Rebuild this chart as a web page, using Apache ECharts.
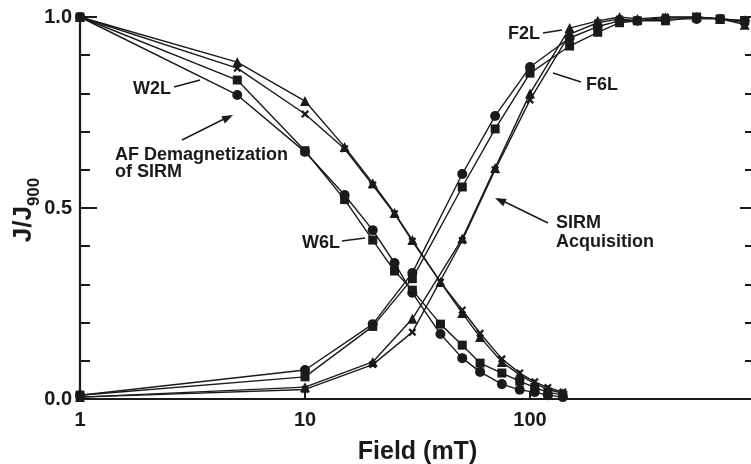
<!DOCTYPE html>
<html>
<head>
<meta charset="utf-8">
<script src="https://cdn.jsdelivr.net/npm/echarts@6/dist/echarts.min.js"></script>
<style>
  html, body { margin: 0; padding: 0; background: #fff; }
  #chart { width: 751px; height: 464px; }
</style>
</head>
<body>
<div id="chart"></div>
<script>
// field steps (mT)
var demagField = [1, 5, 10, 15, 20, 25, 30, 40, 50, 60, 75, 90, 105, 120, 140];
var acqField = [1, 10, 20, 30, 50, 70, 100, 150, 200, 250, 300, 400, 550, 700, 900];

// AF demagnetization of SIRM, J/J900
var demagCircle = [1.0, 0.796, 0.647, 0.534, 0.442, 0.356, 0.278, 0.170, 0.107, 0.071, 0.039, 0.024, 0.018, 0.010, 0.005];
var demagSquare = [1.0, 0.835, 0.650, 0.522, 0.416, 0.335, 0.285, 0.196, 0.141, 0.094, 0.068, 0.047, 0.030, 0.018, 0.010];
var demagTriangle = [1.0, 0.882, 0.780, 0.660, 0.565, 0.487, 0.416, 0.306, 0.225, 0.162, 0.097, 0.063, 0.040, 0.025, 0.015];
var demagCross = [1.0, 0.866, 0.746, 0.655, 0.560, 0.485, 0.413, 0.306, 0.233, 0.172, 0.105, 0.068, 0.045, 0.030, 0.018];

// SIRM acquisition, J/J900
var acqCircle = [0.010, 0.076, 0.196, 0.330, 0.589, 0.741, 0.869, 0.945, 0.975, 0.990, 0.990, 0.995, 0.995, 0.995, 0.990];
var acqSquare = [0.010, 0.058, 0.190, 0.315, 0.555, 0.707, 0.853, 0.924, 0.960, 0.985, 0.990, 0.990, 1.000, 0.995, 0.990];
var acqTriangle = [0.005, 0.031, 0.097, 0.210, 0.420, 0.605, 0.800, 0.971, 0.990, 1.000, 0.995, 1.000, 1.000, 0.995, 0.980];
var acqCross = [0.005, 0.025, 0.090, 0.175, 0.415, 0.600, 0.783, 0.955, 0.985, 0.995, 0.990, 1.000, 1.000, 0.995, 0.985];

var xTicks = [1, 10, 100];
var yTickLabels = ['0.0', '0.5', '1.0'];

var ink = '#1a1a1a';
var font = 'Liberation Sans';
var crossPath = 'path://M0,2 L2,0 L5,3 L8,0 L10,2 L7,5 L10,8 L8,10 L5,7 L2,10 L0,8 L3,5 Z';

function zip(xs, ys) {
  return xs.map(function (x, i) { return [x, ys[i]]; });
}

function makeSeries(name, xs, ys, symbol, size) {
  return {
    name: name,
    type: 'line',
    data: zip(xs, ys),
    symbol: symbol,
    symbolSize: size,
    showAllSymbol: true,
    lineStyle: { color: ink, width: 1.4 },
    itemStyle: { color: ink },
    emphasis: { disabled: true },
    animation: false,
    z: 3
  };
}

var chart = echarts.init(document.getElementById('chart'));

function label(x, y, text) {
  return {
    type: 'text',
    x: x, y: y,
    style: { text: text, fill: ink, font: 'bold 18px "' + font + '"', verticalAlign: 'middle' },
    z: 10
  };
}
function seg(x1, y1, x2, y2) {
  return {
    type: 'line',
    shape: { x1: x1, y1: y1, x2: x2, y2: y2 },
    style: { stroke: ink, lineWidth: 1.4 },
    z: 10
  };
}
function head(tipX, tipY, fromX, fromY) {
  var a = Math.atan2(tipY - fromY, tipX - fromX);
  var l = 11, w = 4;
  var bx = tipX - l * Math.cos(a), by = tipY - l * Math.sin(a);
  return {
    type: 'polygon',
    shape: { points: [[tipX, tipY],
      [bx + w * Math.sin(a), by - w * Math.cos(a)],
      [bx - w * Math.sin(a), by + w * Math.cos(a)]] },
    style: { fill: ink },
    z: 10
  };
}

chart.setOption({
  backgroundColor: '#fff',
  animation: false,
  grid: { left: 80, right: -4, top: 17, bottom: 65, outerBoundsMode: 'none', containLabel: false },
  xAxis: [{
    type: 'log',
    logBase: 10,
    min: 1,
    max: 1000,
    name: 'Field (mT)',
    nameLocation: 'middle',
    nameGap: 41,
    nameTextStyle: { fontFamily: font, fontWeight: 'bold', fontSize: 25, color: ink },
    axisLine: { lineStyle: { color: ink, width: 2.2 } },
    axisTick: { inside: true, length: 8, lineStyle: { color: ink, width: 2 } },
    minorTick: { show: false },
    splitLine: { show: false },
    axisLabel: {
      margin: 11,
      fontFamily: font, fontWeight: 'bold', fontSize: 20, color: ink,
      formatter: function (v) { return xTicks.indexOf(v) >= 0 ? String(v) : ''; }
    }
  }, {
    type: 'log',
    logBase: 10,
    min: 1,
    max: 1000,
    position: 'top',
    axisLine: { lineStyle: { color: ink, width: 2.2 } },
    axisTick: { show: false },
    axisLabel: { show: false },
    splitLine: { show: false }
  }],
  yAxis: [{
    type: 'value',
    min: 0,
    max: 1,
    interval: 0.5,
    axisLine: { lineStyle: { color: ink, width: 2.2 } },
    axisTick: { inside: true, length: 17, lineStyle: { color: ink, width: 2 } },
    minorTick: { show: true, splitNumber: 5, length: 10, lineStyle: { color: ink, width: 2 } },
    splitLine: { show: false },
    axisLabel: {
      margin: 8,
      fontFamily: font, fontWeight: 'bold', fontSize: 20, color: ink,
      formatter: function (v) { return yTickLabels[Math.round(v * 2)]; }
    }
  }, {
    type: 'value',
    min: 0,
    max: 1,
    interval: 0.5,
    position: 'right',
    axisLine: { show: true, lineStyle: { color: ink, width: 2.2 } },
    axisTick: { show: true, inside: true, length: 15, lineStyle: { color: ink, width: 2 } },
    minorTick: { show: true, splitNumber: 5, length: 10, lineStyle: { color: ink, width: 2 } },
    splitLine: { show: false },
    axisLabel: { show: false }
  }],
  series: [
    makeSeries('demag circle', demagField, demagCircle, 'circle', 10),
    makeSeries('demag square', demagField, demagSquare, 'rect', 9),
    makeSeries('demag triangle', demagField, demagTriangle, 'triangle', 10),
    makeSeries('demag cross', demagField, demagCross, crossPath, 8),
    makeSeries('acq circle', acqField, acqCircle, 'circle', 10),
    makeSeries('acq square', acqField, acqSquare, 'rect', 9),
    makeSeries('acq triangle', acqField, acqTriangle, 'triangle', 10),
    makeSeries('acq cross', acqField, acqCross, crossPath, 8)
  ],
  graphic: [
    // y axis title, J/J900 with subscript
    {
      type: 'text',
      x: 22, y: 210,
      rotation: Math.PI / 2,
      style: {
        text: '{a|J/J}{b|900}',
        align: 'center',
        verticalAlign: 'middle',
        rich: {
          a: { fontFamily: font, fontWeight: 'bold', fontSize: 26, fill: ink, lineHeight: 30, verticalAlign: 'bottom' },
          b: { fontFamily: font, fontWeight: 'bold', fontSize: 17, fill: ink, lineHeight: 30, verticalAlign: 'bottom', padding: [0, 0, -6, 0] }
        }
      },
      z: 10
    },
    label(133, 89, 'W2L'), seg(174, 87, 200, 80),
    label(115, 155, 'AF Demagnetization'),
    label(115, 172, 'of SIRM'),
    seg(182, 140, 228, 117), head(233, 115, 182, 140),
    label(302, 243, 'W6L'), seg(342, 241, 365, 238),
    label(508, 34, 'F2L'), seg(543, 33, 562, 30),
    label(586, 85, 'F6L'), seg(581, 82, 553, 73),
    label(556, 223, 'SIRM'),
    label(556, 242, 'Acquisition'),
    seg(548, 223, 501, 200), head(495, 198, 548, 223)
  ]
});
</script>
</body>
</html>
